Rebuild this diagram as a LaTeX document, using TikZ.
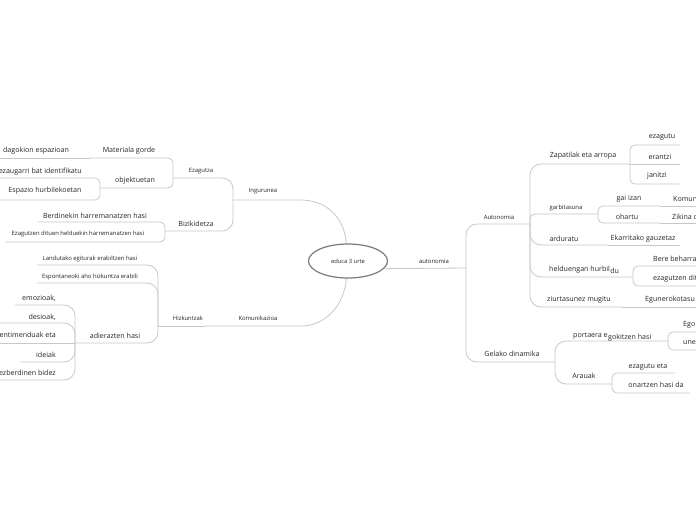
\documentclass[tikz,border=0pt]{standalone}
\usepackage{fontspec}
\setmainfont{Open Sans}
\usetikzlibrary{shapes.geometric}
\definecolor{linegray}{HTML}{C8C8C8}
\definecolor{elgray}{HTML}{7A7A7A}
\definecolor{txt}{HTML}{262626}
\tikzset{
  big/.style={font=\fontsize{7.1}{8}\selectfont, text=txt, inner sep=0pt},
  sm/.style={font=\fontsize{5.9}{7}\selectfont, text=txt, inner sep=0pt},
  ln/.style={draw=linegray, line width=0.8pt, rounded corners=11pt},
  lns/.style={draw=linegray, line width=0.8pt, rounded corners=5pt},
}
\begin{document}
\begin{tikzpicture}[x=1pt,y=-1pt]
\fill[white] (0,0) rectangle (696,520);
\useasboundingbox (0,0) rectangle (696,520);

% centre
\node[ellipse, draw=elgray, line width=1.2pt, minimum width=79pt, minimum height=34pt, inner sep=0pt,
      font=\fontsize{5.8}{7}\selectfont, text=txt] (E) at (348,261) {educa 3 urte};

% ---------- right side ----------
\coordinate (jAut) at (466,268);
\coordinate (jAutonomia) at (530,224);
\coordinate (jGelako) at (555,362);
\coordinate (jZap) at (630,164);
\coordinate (eEzagutu) at (680,145);
\coordinate (eErantzi) at (680,164);
\coordinate (eJanitzi) at (680,184);
\coordinate (jGarb) at (598,214);
\coordinate (jGai) at (660,206);
\coordinate (eKomun) at (700,206);
\coordinate (jOhartu) at (660,223);
\coordinate (eZikina) at (700,223);
\coordinate (jArdur) at (608,245);
\coordinate (eEkarr) at (680,245);
\coordinate (jHeld) at (633,277);
\coordinate (eBere) at (700,266);
\coordinate (eEzDit) at (700,286);
\coordinate (jZiur) at (622,307);
\coordinate (eEgun) at (700,307);
\coordinate (jPort) at (668,341);
\coordinate (eEgo) at (700,332);
\coordinate (eUne) at (700,350);
\coordinate (jArau) at (612,384);
\coordinate (eEzEta) at (675,373);
\coordinate (eOnar) at (690,393);

\draw[ln] (E.-12) -- (jAut);
\draw[ln] (jAut) |- (jAutonomia);
\draw[ln] (jAut) |- (jGelako);
\draw[ln] (jAutonomia) |- (jZap);
\draw[lns] (jZap) |- (eEzagutu);
\draw[lns] (jZap) -- (eErantzi);
\draw[lns] (jZap) |- (eJanitzi);
\draw[lns] (jAutonomia) |- (jGarb);
\draw[lns] (jGarb) |- (jGai);
\draw[lns] (jGai) -- (eKomun);
\draw[lns] (jGarb) |- (jOhartu);
\draw[lns] (jOhartu) -- (eZikina);
\draw[ln] (jAutonomia) |- (jArdur);
\draw[ln] (jArdur) -- (eEkarr);
\draw[ln] (jAutonomia) |- (jHeld);
\draw[lns] (jHeld) |- (eBere);
\draw[lns] (jHeld) |- (eEzDit);
\draw[ln] (jAutonomia) |- (jZiur);
\draw[ln] (jZiur) -- (eEgun);
\draw[ln] (jGelako) |- (jPort);
\draw[lns] (jPort) |- (eEgo);
\draw[lns] (jPort) |- (eUne);
\draw[ln] (jGelako) |- (jArau);
\draw[lns] (jArau) |- (eEzEta);
\draw[lns] (jArau) |- (eOnar);

\node[sm] (tAutonomia0) at (434,261) {autonomia};
\node[sm] (tAutonomia) at (499,217) {Autonomia};
\node[big] (tGelako) at (512,354) {Gelako dinamika};
\node[big] (tZap) at (583,156) {Zapatilak eta arropa};
\node[big] (tEzagutu) at (662,137) {ezagutu};
\node[big] (tErantzi) at (660,157) {erantzi};
\node[big] (tJanitzi) at (657,176) {janitzi};
\node[sm] (tGarb) at (566,208) {garbitasuna};
\node[big] (tGai) at (629,199) {gai izan};
\node[big, anchor=west] (tKomun) at (673,199) {Komun};
\node[big] (tOhartu) at (627,217) {ohartu};
\node[big, anchor=west] (tZikina) at (672,217) {Zikina d};
\node[big] (tArdur) at (564,239) {arduratu};
\node[big] (tEkarr) at (643,239) {Ekarritako gauzetaz};
\node[big, anchor=base west] (tHeld) at (549,271) {helduengan hurbil};
\node[big, anchor=base west] (tHeldDu) at (tHeld.base east |- 0,273) {du};
\node[big, anchor=west] (tBere) at (653,259) {Bere beharra};
\node[big, anchor=west] (tEzDit) at (653,279) {ezagutzen dit};
\node[big] (tZiur) at (579,300) {ziurtasunez mugitu};
\node[big, anchor=west] (tEgun) at (645,300) {Egunerokotasu};
\node[big, anchor=base west] (tPort) at (573,337) {portaera e};
\node[big, anchor=base west] (tPort2) at (tPort.base east |- 0,339) {gokitzen hasi};
\node[big, anchor=west] (tEgo) at (683,325) {Ego};
\node[big, anchor=west] (tUne) at (683,343) {une};
\node[big] (tArau) at (584,376) {Arauak};
\node[big] (tEzEta) at (648,367) {ezagutu eta};
\node[big] (tOnar) at (656,385) {onartzen hasi da};

% ---------- left side ----------
\coordinate (jIng) at (233,200);
\coordinate (jEzag) at (173,178);
\coordinate (jMat) at (90,158);
\coordinate (eDago) at (0,158);
\coordinate (jObj) at (100,188);
\coordinate (eEzau) at (0,178);
\coordinate (eEspaz) at (0,200);
\coordinate (jBiz) at (165,231);
\coordinate (eBerd) at (38,222);
\coordinate (eEzDit2) at (5,242);
\coordinate (jKom) at (205,326);
\coordinate (jHiz) at (158,326);
\coordinate (eLand) at (37,265);
\coordinate (eEspon) at (37,283);
\coordinate (jAdi) at (75,343);
\coordinate (eEmoz) at (15,305);
\coordinate (eDesi) at (0,323);
\coordinate (eSent) at (0,343);
\coordinate (eIdei) at (20,362);
\coordinate (eEzber) at (0,380);

\draw[ln] (E.95) .. controls (344,216) and (325,200) .. (290,200) -- (jIng);
\draw[ln] (E.265) .. controls (344,306) and (325,326) .. (290,326) -- (jKom);
\draw[ln] (jIng) |- (jEzag);
\draw[ln] (jIng) |- (jBiz);
\draw[lns] (jEzag) |- (jMat);
\draw[lns] (jMat) -- (eDago);
\draw[lns] (jEzag) |- (jObj);
\draw[lns] (jObj) |- (eEzau);
\draw[lns] (jObj) |- (eEspaz);
\draw[lns] (jBiz) |- (eBerd);
\draw[lns] (jBiz) |- (eEzDit2);
\draw[ln] (jKom) -- (jHiz);
\draw[ln] (jHiz) |- (eLand);
\draw[ln] (jHiz) |- (eEspon);
\draw[ln] (jHiz) |- (jAdi);
\draw[ln] (jAdi) |- (eEmoz);
\draw[ln] (jAdi) |- (eDesi);
\draw[ln] (jAdi) -- (eSent);
\draw[ln] (jAdi) |- (eIdei);
\draw[ln] (jAdi) |- (eEzber);

\node[sm] (tIng) at (263,191) {Ingurunea};
\node[sm] (tEzag) at (201,171) {Ezagutza};
\node[big] (tMat) at (129,151) {Materiala gorde};
\node[big] (tDago) at (36,151) {dagokion espazioan};
\node[big] (tObj) at (135,181) {objektuetan};
\node[big, anchor=east] (tEzau) at (82,172) {ezaugarri bat identifikatu};
\node[big] (tEspaz) at (45,191) {Espazio hurbilekoetan};
\node[big] (tBiz) at (196,224) {Bizikidetza};
\node[big] (tBerd) at (95,216) {Berdinekin harremanatzen hasi};
\node[sm] (tEzDit2) at (78,234) {Ezagutzen dituen helduekin harremanatzen hasi};
\node[sm] (tKom) at (258,318) {Komunikazioa};
\node[sm] (tHiz) at (188,318) {Hizkuntzak};
\node[sm] (tLand) at (90,259) {Landutako egiturak erabiltzen hasi};
\node[sm] (tEspon) at (90,277) {Espontaneoki aho hizkuntza erabili};
\node[big] (tAdi) at (115,336) {adierazten hasi};
\node[big, anchor=east] (tEmoz) at (56,298) {emozioak,};
\node[big, anchor=east] (tDesi) at (56,317) {desioak,};
\node[big, anchor=east] (tSent) at (56,335) {sentimenduak eta};
\node[big, anchor=east] (tIdei) at (56,355) {ideiak};
\node[big, anchor=east] (tEzber) at (56,373) {ezberdinen bidez};
\end{tikzpicture}
\end{document}
